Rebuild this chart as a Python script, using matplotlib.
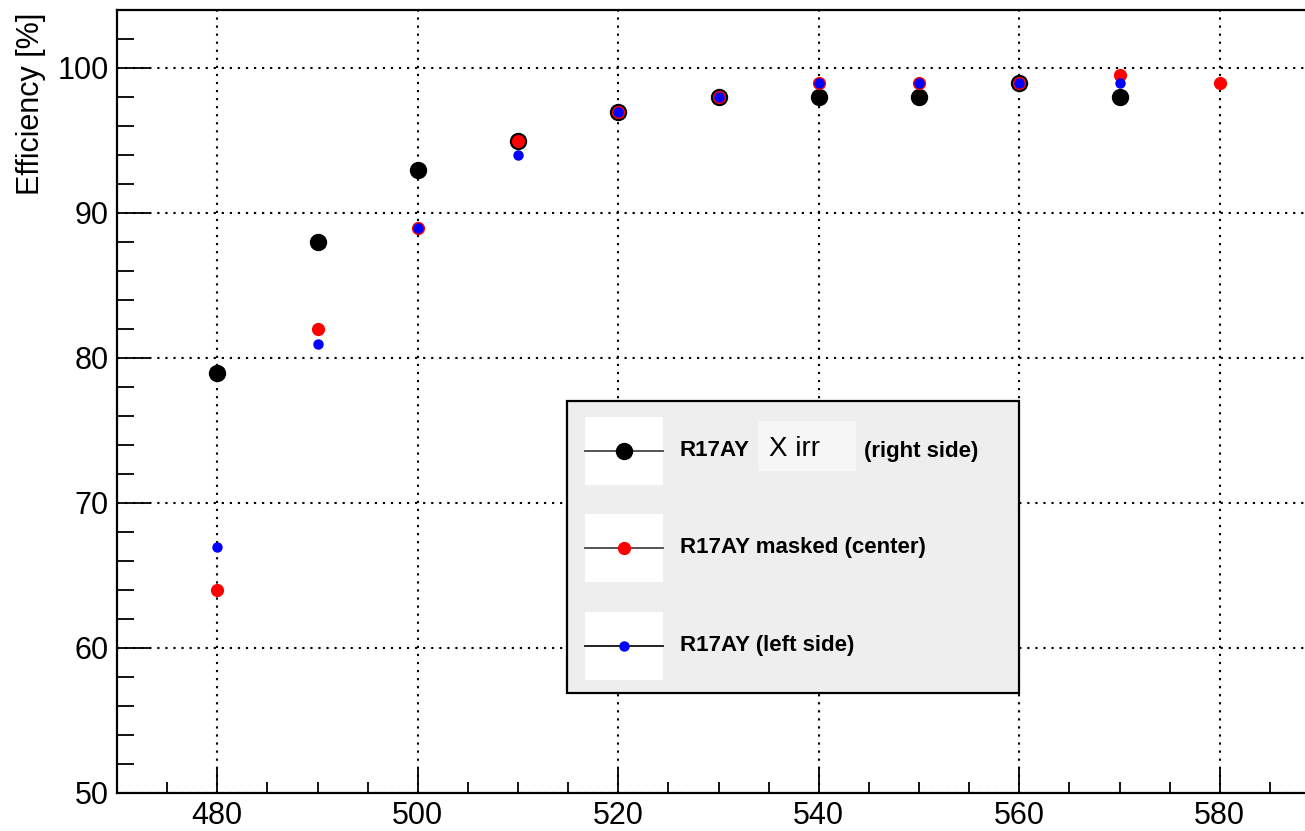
import matplotlib
matplotlib.use("Agg")
import matplotlib.pyplot as plt
from matplotlib.patches import Rectangle
from matplotlib.lines import Line2D

plt.rcParams['font.family'] = ['Liberation Sans', 'DejaVu Sans']
plt.rcParams['lines.scale_dashes'] = False

# Voltage scan points and measured efficiencies
hv_right = [480, 490, 500, 510, 520, 530, 540, 550, 560, 570]
eff_right = [79, 88, 93, 95, 97, 98, 98, 98, 99, 98]

hv_center = [480, 490, 500, 510, 520, 530, 540, 550, 560, 570, 580]
eff_center = [64, 82, 89, 95, 97, 98, 99, 99, 99, 99.5, 99]

hv_left = [480, 490, 500, 510, 520, 530, 540, 550, 560, 570]
eff_left = [67, 81, 89, 94, 97, 98, 99, 99, 99, 99]

x_ticks = [480, 500, 520, 540, 560, 580]
y_ticks = [50, 60, 70, 80, 90, 100]

W, H = 1305, 831
fig = plt.figure(figsize=(W / 100, H / 100), dpi=100)


def fx(px):
    return px / W


def fy(py):
    return 1 - py / H


# Axes frame (right edge runs slightly past the canvas)
ax_left, ax_right, ax_top, ax_bottom = 117, 1320, 10, 793
ax = fig.add_axes([fx(ax_left), fy(ax_bottom), fx(ax_right - ax_left), (ax_bottom - ax_top) / H])
ax.set_xlim(470, 590)
ax.set_ylim(50, 104)

for side in ['left', 'bottom', 'top', 'right']:
    ax.spines[side].set_linewidth(1.6)
    ax.spines[side].set_color('black')

ax.set_xticks(x_ticks)
ax.set_yticks(y_ticks)
ax.set_xticks(range(470, 591, 5), minor=True)
ax.set_yticks(range(50, 105, 2), minor=True)
ax.tick_params(axis='both', which='both', direction='in', top=False, right=False, width=1.3)
ax.tick_params(axis='x', which='major', length=18, labelsize=22, pad=6)
ax.tick_params(axis='x', which='minor', length=8)
ax.tick_params(axis='y', which='major', length=24, labelsize=22, pad=6)
ax.tick_params(axis='y', which='minor', length=12)

ax.grid(True, which='major', color='black', linewidth=1.5, linestyle=(0, (1.6, 4.2)))
ax.set_axisbelow(True)

ax.plot(hv_right, eff_right, linestyle='none', marker='o', markersize=11.5,
        color='black', zorder=3)
ax.plot(hv_center, eff_center, linestyle='none', marker='o', markersize=8.5,
        color='#ff0000', zorder=4)
ax.plot(hv_left, eff_left, linestyle='none', marker='o', markersize=6.5,
        color='#0000ff', zorder=5)

fig.text(fx(31), fy(13), 'Efficiency [%]', rotation=90, ha='center', va='top',
         fontsize=22)

# Legend panel
fig.add_artist(Rectangle((fx(567), fy(693)), fx(1019 - 567), (693 - 401) / H,
                         transform=fig.transFigure, facecolor='#eeeeee',
                         edgecolor='black', linewidth=1.6, zorder=10))

entries = [
    (451, 'black', 11.5, '#444444'),
    (548, '#ff0000', 8.5, '#444444'),
    (646, '#0000ff', 6.5, '#111111'),
]
for yc, col, ms, lc in entries:
    fig.add_artist(Rectangle((fx(585), fy(yc + 34)), fx(78), 68 / H,
                             transform=fig.transFigure, facecolor='white',
                             edgecolor='none', zorder=11))
    fig.add_artist(Line2D([fx(585), fx(663)], [fy(yc), fy(yc)],
                          transform=fig.transFigure, color=lc, linewidth=1.3,
                          zorder=12))
    fig.add_artist(Line2D([fx(624)], [fy(yc)], transform=fig.transFigure,
                          marker='o', markersize=ms, color=col, linestyle='none',
                          zorder=13))

fig.add_artist(Rectangle((fx(758), fy(471)), fx(98), 50 / H,
                         transform=fig.transFigure, facecolor='#f6f6f6',
                         edgecolor='none', zorder=11))

fig.text(fx(680), fy(451), 'R17AY', fontsize=16, fontweight='bold',
         ha='left', va='center', zorder=14)
fig.text(fx(769), fy(449), 'X irr', fontsize=20, ha='left', va='center', zorder=14)
fig.text(fx(864), fy(451), '(right side)', fontsize=16, fontweight='bold',
         ha='left', va='center', zorder=14)
fig.text(fx(680), fy(548), 'R17AY masked (center)', fontsize=16, fontweight='bold',
         ha='left', va='center', zorder=14)
fig.text(fx(680), fy(646), 'R17AY (left side)', fontsize=16, fontweight='bold',
         ha='left', va='center', zorder=14)

fig.savefig('out.png', dpi=100)
